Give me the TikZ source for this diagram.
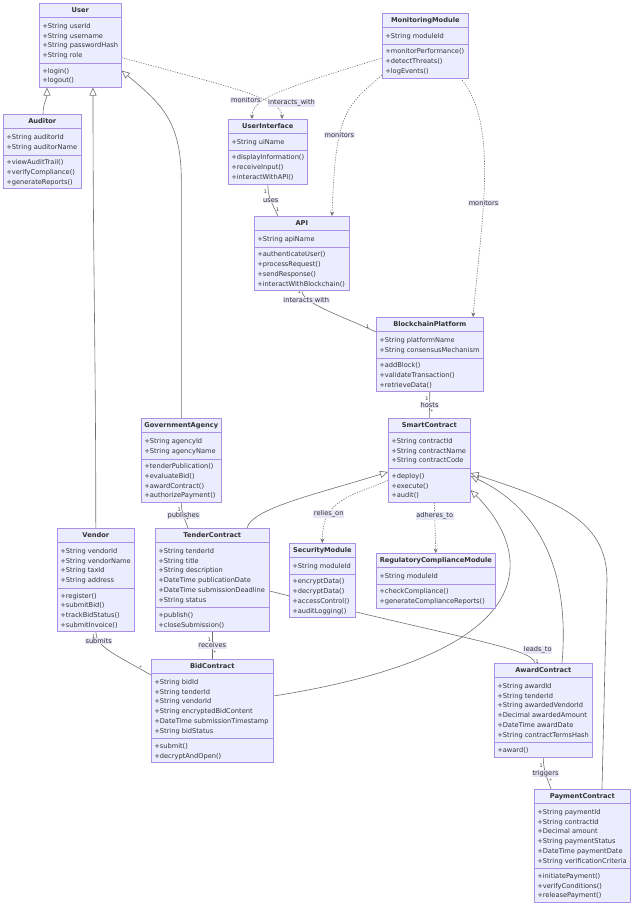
\documentclass[tikz,border=0pt]{standalone}
\usepackage{fontspec}
\setmainfont{DejaVu Sans}
\usepackage{tikz}
\usetikzlibrary{shapes.multipart,arrows.meta,backgrounds}
\definecolor{classFill}{HTML}{ECECFF}
\definecolor{classLine}{HTML}{A891E2}
\definecolor{edgeLine}{HTML}{707070}
\definecolor{labelFill}{HTML}{E6E6F6}
\definecolor{textGray}{HTML}{333333}
\newcommand{\classFont}[0]{\fontsize{6.65}{9.7}\selectfont}
\newcommand{\multFont}[0]{\fontsize{4.8}{5}\selectfont}
\newcommand{\classHead}[1]{\rule[-4.3pt]{0pt}{13.3pt}\bfseries #1}
\newcommand{\classAttrs}[1]{\rule{0pt}{11pt}#1\rule[-5.3pt]{0pt}{0pt}}
\newcommand{\classOps}[1]{\rule{0pt}{9.5pt}#1\rule[-4.3pt]{0pt}{0pt}}

\begin{document}
\begin{tikzpicture}[x=1pt, y=1pt]
  \tikzset{
    umlclass/.style={rectangle split, rectangle split parts=3,
      rectangle split part align={center,left,left},
      draw=classLine, fill=classFill, line width=0.6pt, anchor=north west,
      align=left, font=\classFont, text=textGray, inner xsep=3pt, inner ysep=0pt},
    assoc/.style={draw=edgeLine, line width=0.6pt},
    inherit/.style={assoc, -{Triangle[open, length=8pt, width=7pt, fill=white]}},
    depend/.style={assoc, dash pattern=on 1.2pt off 1.3pt, -{Stealth[length=4.5pt, width=4pt]}},
    elabel/.style={fill=labelFill, font=\classFont, text=textGray, inner sep=0.6pt},
    mult/.style={font=\multFont, text=textGray, inner sep=1pt}
  }
  \useasboundingbox (0,0) rectangle (640,-913);

  \node[umlclass, minimum width=82pt] (user) at (39,-3) {\classHead{User}
    \nodepart{two}\classAttrs{+String userId\\+String username\\+String passwordHash\\+String role}
    \nodepart{three}\classOps{+login()\\+logout()}};
  \node[umlclass, minimum width=78pt] (auditor) at (3,-114) {\classHead{Auditor}
    \nodepart{two}\classAttrs{+String auditorId\\+String auditorName}
    \nodepart{three}\classOps{+viewAuditTrail()\\+verifyCompliance()\\+generateReports()}};
  \node[umlclass, minimum width=79pt] (ui) at (228,-119) {\classHead{UserInterface}
    \nodepart{two}\classAttrs{+String uiName}
    \nodepart{three}\classOps{+displayInformation()\\+receiveInput()\\+interactWithAPI()}};
  \node[umlclass, minimum width=86pt] (monitor) at (382,-13) {\classHead{MonitoringModule}
    \nodepart{two}\classAttrs{+String moduleId}
    \nodepart{three}\classOps{+monitorPerformance()\\+detectThreats()\\+logEvents()}};
  \node[umlclass, minimum width=95pt] (api) at (254,-216) {\classHead{API}
    \nodepart{two}\classAttrs{+String apiName}
    \nodepart{three}\classOps{+authenticateUser()\\+processRequest()\\+sendResponse()\\+interactWithBlockchain()}};
  \node[umlclass, minimum width=107pt] (chain) at (376,-317) {\classHead{BlockchainPlatform}
    \nodepart{two}\classAttrs{+String platformName\\+String consensusMechanism}
    \nodepart{three}\classOps{+addBlock()\\+validateTransaction()\\+retrieveData()}};
  \node[umlclass, minimum width=82pt] (smart) at (388,-418) {\classHead{SmartContract}
    \nodepart{two}\classAttrs{+String contractId\\+String contractName\\+String contractCode}
    \nodepart{three}\classOps{+deploy()\\+execute()\\+audit()}};
  \node[umlclass, minimum width=66pt] (security) at (289,-543) {\classHead{SecurityModule}
    \nodepart{two}\classAttrs{+String moduleId}
    \nodepart{three}\classOps{+encryptData()\\+decryptData()\\+accessControl()\\+auditLogging()}};
  \node[umlclass, minimum width=119pt] (regulatory) at (376,-553) {\classHead{RegulatoryComplianceModule}
    \nodepart{two}\classAttrs{+String moduleId}
    \nodepart{three}\classOps{+checkCompliance()\\+generateComplianceReports()}};
  \node[umlclass, minimum width=80pt] (agency) at (141,-418) {\classHead{GovernmentAgency}
    \nodepart{two}\classAttrs{+String agencyId\\+String agencyName}
    \nodepart{three}\classOps{+tenderPublication()\\+evaluateBid()\\+awardContract()\\+authorizePayment()}};
  \node[umlclass, minimum width=77pt] (vendor) at (57,-528) {\classHead{Vendor}
    \nodepart{two}\classAttrs{+String vendorId\\+String vendorName\\+String taxId\\+String address}
    \nodepart{three}\classOps{+register()\\+submitBid()\\+trackBidStatus()\\+submitInvoice()}};
  \node[umlclass, minimum width=114pt] (tender) at (155,-528) {\classHead{TenderContract}
    \nodepart{two}\classAttrs{+String tenderId\\+String title\\+String description\\+DateTime publicationDate\\+DateTime submissionDeadline\\+String status}
    \nodepart{three}\classOps{+publish()\\+closeSubmission()}};
  \node[umlclass, minimum width=122pt] (bid) at (151,-659) {\classHead{BidContract}
    \nodepart{two}\classAttrs{+String bidId\\+String tenderId\\+String vendorId\\+String encryptedBidContent\\+DateTime submissionTimestamp\\+String bidStatus}
    \nodepart{three}\classOps{+submit()\\+decryptAndOpen()}};
  \node[umlclass, minimum width=98pt] (award) at (494,-663) {\classHead{AwardContract}
    \nodepart{two}\classAttrs{+String awardId\\+String tenderId\\+String awardedVendorId\\+Decimal awardedAmount\\+DateTime awardDate\\+String contractTermsHash}
    \nodepart{three}\classOps{+award()}};
  \node[umlclass, minimum width=96pt] (payment) at (534,-789) {\classHead{PaymentContract}
    \nodepart{two}\classAttrs{+String paymentId\\+String contractId\\+Decimal amount\\+String paymentStatus\\+DateTime paymentDate\\+String verificationCriteria}
    \nodepart{three}\classOps{+initiatePayment()\\+verifyConditions()\\+releasePayment()}};

  \begin{pgfonlayer}{background}
    % inheritance
    \draw[inherit] ([xshift=40pt]auditor.north west) to[out=90,in=-90] ([xshift=8pt]user.south west);
    \draw[inherit] (vendor.north) to[out=90,in=-90] ([xshift=54pt]user.south west);
    \draw[inherit] (agency.north) -- ++(0,238) to[out=90,in=-40,out distance=60pt,in distance=50pt] ([yshift=17pt]user.south east);
    \draw[inherit] ([xshift=92pt]tender.north west) to[out=75,in=-163,out distance=20pt,in distance=80pt] ([yshift=-54pt]smart.north west);
    \draw[inherit] ([yshift=-37pt]bid.north east) to[out=9,in=-45,out distance=290pt,in distance=80pt] ([yshift=-72pt]smart.north east);
    \draw[inherit] ([xshift=68pt]award.north west) to[out=85,in=-25,out distance=100pt,in distance=70pt] ([yshift=-58pt]smart.north east);
    \draw[inherit] ([xshift=68pt]payment.north west) -- ++(5,209) to[out=90,in=-18,out distance=60pt,in distance=90pt] ([yshift=-55pt]smart.north east);

    % dependencies
    \draw[depend] ([yshift=30pt]user.south east) to[out=-15,in=90,out distance=120pt,in distance=20pt]
      node[elabel,pos=0.7,anchor=west,xshift=-2pt]{interacts\_with} ([xshift=54pt]ui.north west);
    \draw[depend] ([yshift=-45pt]monitor.north west) to[out=-163,in=90,out distance=110pt,in distance=20pt]
      node[elabel,pos=0.68,anchor=east,yshift=2pt]{monitors} ([xshift=24pt]ui.north west);
    \draw[depend] ([yshift=3pt]monitor.south west) to[out=-140,in=88,out distance=50pt,in distance=100pt]
      node[elabel,pos=0.62]{monitors} ([xshift=78pt]api.north west);
    \draw[depend] ([xshift=-8pt]monitor.south east) to[out=-50,in=85,out distance=60pt,in distance=100pt]
      node[elabel,pos=0.6]{monitors} ([xshift=97pt]chain.north west);
    \draw[depend] ([yshift=-62pt]smart.north west) to[out=-155,in=90,out distance=40pt,in distance=45pt]
      node[elabel,pos=0.72]{relies\_on} (security.north);
    \draw[depend] ([xshift=5pt]smart.south) -- node[elabel,pos=0.27]{adheres\_to} (regulatory.north);

    % associations
    \draw[assoc] (ui.south) to[out=-90,in=115]
      node[elabel]{uses} node[mult,pos=0.2,left]{1} node[mult,pos=0.8,right]{1} ([xshift=24pt]api.north west);
    \draw[assoc] ([xshift=48pt]api.south west) to[out=-90,in=155,out distance=12pt,in distance=40pt]
      node[elabel,pos=0.2,yshift=-2pt]{interacts with} node[mult,pos=0.03,left]{1} node[mult,pos=0.95,above left]{1} ([yshift=-15pt]chain.north west);
    \draw[assoc] (chain.south) --
      node[elabel]{hosts} node[mult,pos=0.25,left]{1} node[mult,pos=0.75,right]{*} (smart.north);
    \draw[assoc] (agency.south) to[out=-90,in=110]
      node[elabel]{publishes} node[mult,pos=0.25,left]{1} node[mult,pos=0.7,right]{*} ([xshift=33pt]tender.north west);
    \draw[assoc] (vendor.south) to[out=-90,in=150,out distance=15pt,in distance=40pt]
      node[elabel,pos=0.22]{submits} node[mult,pos=0.1,left]{1} node[mult,pos=0.92,above left]{*} ([yshift=-16pt]bid.north west);
    \draw[assoc] (tender.south) --
      node[elabel]{receives} node[mult,pos=0.3,left]{1} node[mult,pos=0.75,right]{*} (bid.north);
    \draw[assoc] ([yshift=-63pt]tender.north east) to[out=-14,in=100,out distance=200pt,in distance=15pt]
      node[elabel,pos=0.78,anchor=west,yshift=4pt]{leads\_to} node[mult,pos=0.03,below right]{1} node[mult,pos=0.96,right]{1} ([xshift=41pt]award.north west);
    \draw[assoc] (award.south) to[out=-90,in=110]
      node[elabel]{triggers} node[mult,pos=0.25,left]{1} node[mult,pos=0.75,right]{*} ([xshift=17pt]payment.north west);
  \end{pgfonlayer}
\end{tikzpicture}
\end{document}
